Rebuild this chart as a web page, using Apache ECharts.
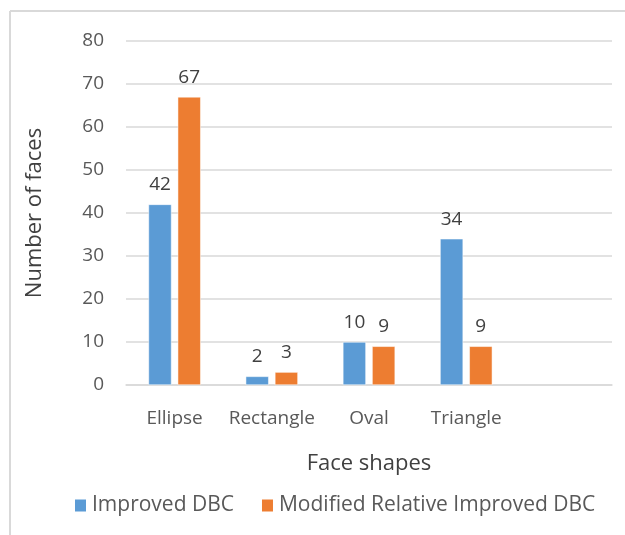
<!DOCTYPE html>
<html>
<head>
<meta charset="utf-8">
<script src="https://cdn.jsdelivr.net/npm/echarts@6/dist/echarts.min.js"></script>
<style>
  html, body { margin: 0; padding: 0; background: #fff; }
  #chart { width: 625px; height: 535px; }
</style>
</head>
<body>
<div id="chart"></div>
<script>
// face shape categories (last slot is empty in the original)
const categories = ['Ellipse', 'Rectangle', 'Oval', 'Triangle', '']
const improvedDBC = [42, 2, 10, 34, null]
const modifiedDBC = [67, 3, 9, 9, null]

const chart = echarts.init(document.getElementById('chart'))
const font = '"Open Sans", Lato, sans-serif'

const option = {
  animation: false,
  textStyle: { fontFamily: font },
  graphic: [
    { type: 'line', shape: { x1: 10, y1: 11, x2: 625, y2: 11 }, style: { stroke: '#d9d9d9', lineWidth: 2 } },
    { type: 'line', shape: { x1: 10, y1: 11, x2: 10, y2: 535 }, style: { stroke: '#d9d9d9', lineWidth: 2 } }
  ],
  grid: { left: 126, right: 13, top: 41, bottom: 150 },
  legend: {
    bottom: 14,
    left: 68,
    itemWidth: 13,
    itemHeight: 14,
    itemGap: 26,
    itemTextGap: 5,
    icon: 'rect',
    textStyle: { fontSize: 21, color: '#595959', fontFamily: font },
    data: ['Improved DBC', 'Modified Relative Improved DBC']
  },
  xAxis: {
    type: 'category',
    data: categories,
    name: 'Face shapes',
    nameLocation: 'middle',
    nameGap: 68,
    nameTextStyle: { fontSize: 22, color: '#404040', fontFamily: font },
    axisLine: { lineStyle: { color: '#d9d9d9', width: 1.5 } },
    axisTick: { show: false },
    axisLabel: { fontSize: 19, color: '#595959', margin: 24, interval: 0, fontFamily: font }
  },
  yAxis: {
    type: 'value',
    min: 0,
    max: 80,
    interval: 10,
    name: 'Number of faces',
    nameLocation: 'middle',
    nameGap: 80,
    nameTextStyle: { fontSize: 22, color: '#404040', fontFamily: font },
    axisLine: { show: false },
    axisTick: { show: false },
    axisLabel: { fontSize: 19, color: '#595959', margin: 22, fontFamily: font },
    splitLine: { lineStyle: { color: '#d9d9d9', width: 1.5 } }
  },
  series: [
    {
      name: 'Improved DBC',
      type: 'bar',
      data: improvedDBC,
      barWidth: 23,
      barGap: '27%',
      itemStyle: { color: '#5b9bd5', borderColor: '#fff', borderWidth: 0.5 },
      label: { show: true, position: 'top', distance: 10, fontSize: 19, color: '#404040', fontFamily: font }
    },
    {
      name: 'Modified Relative Improved DBC',
      type: 'bar',
      data: modifiedDBC,
      barWidth: 23,
      itemStyle: { color: '#ed7d31', borderColor: '#fff', borderWidth: 0.5 },
      label: { show: true, position: 'top', distance: 10, fontSize: 19, color: '#404040', fontFamily: font }
    }
  ]
}

chart.setOption(option)
</script>
</body>
</html>
